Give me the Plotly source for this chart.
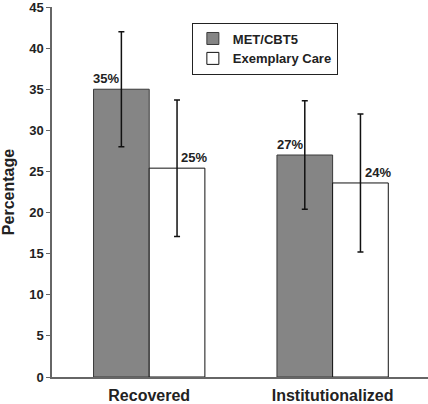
import plotly.graph_objects as go

categories = ["Recovered", "Institutionalized"]
met_values = [35.0, 27.0]
met_err = [7.0, 6.6]
ec_values = [25.4, 23.6]
ec_err = [8.3, 8.4]
met_labels = ["35%", "27%"]
ec_labels = ["25%", "24%"]
y_ticks = [0, 5, 10, 15, 20, 25, 30, 35, 40, 45]

FONT = "Liberation Sans, Arial, sans-serif"

fig = go.Figure()
fig.add_trace(go.Bar(
    name="MET/CBT5", x=categories, y=met_values,
    marker=dict(color="#858585", line=dict(color="#3a3a3a", width=1)),
    error_y=dict(type="data", array=met_err, visible=True, color="#111111", thickness=1.5, width=3),
))
fig.add_trace(go.Bar(
    name="Exemplary Care", x=categories, y=ec_values,
    marker=dict(color="white", line=dict(color="#111111", width=1)),
    error_y=dict(type="data", array=ec_err, visible=True, color="#111111", thickness=1.5, width=3),
))

for c, v, t in zip(categories, met_values, met_labels):
    fig.add_annotation(x=c, y=v, text=t, showarrow=False, xshift=-43, yshift=1,
                       yanchor="bottom", font=dict(family=FONT, size=13, color="#222", weight="bold"))
for c, v, t in zip(categories, ec_values, ec_labels):
    fig.add_annotation(x=c, y=v, text=t, showarrow=False, xshift=45, yshift=1,
                       yanchor="bottom", font=dict(family=FONT, size=13, color="#222", weight="bold"))

fig.update_layout(
    width=428, height=404,
    margin=dict(l=52, r=0, t=5, b=24),
    paper_bgcolor="white", plot_bgcolor="white",
    barmode="group", bargap=0.393, bargroupgap=0,
    font=dict(family=FONT, color="#222", weight="bold"),
    legend=dict(x=0.372, y=0.958, xanchor="left", yanchor="top",
                bordercolor="#222", borderwidth=1, bgcolor="white",
                font=dict(family=FONT, size=13, color="#222", weight="bold"),
                tracegroupgap=0),
    showlegend=True,
)
fig.update_xaxes(
    range=[-0.53, 1.52], showline=True, linecolor="#666", linewidth=1.5,
    ticks="", showgrid=False, zeroline=False, ticklabelstandoff=3,
    tickfont=dict(family=FONT, size=16, color="#222", weight="bold"),
)
fig.update_yaxes(
    range=[0, 45], tickvals=y_ticks, showline=True, linecolor="#666", linewidth=1.5,
    ticks="outside", ticklen=4, tickcolor="#666", showgrid=False, zeroline=False,
    ticklabeloverflow="allow",
    tickfont=dict(family=FONT, size=13, color="#222", weight="bold"),
    title=dict(text="Percentage", standoff=14,
               font=dict(family=FONT, size=16, color="#222", weight="bold")),
)

fig.write_html("out.html", config={"displayModeBar": False},
               post_script="document.body.style.margin='0';document.body.style.overflow='hidden';")
